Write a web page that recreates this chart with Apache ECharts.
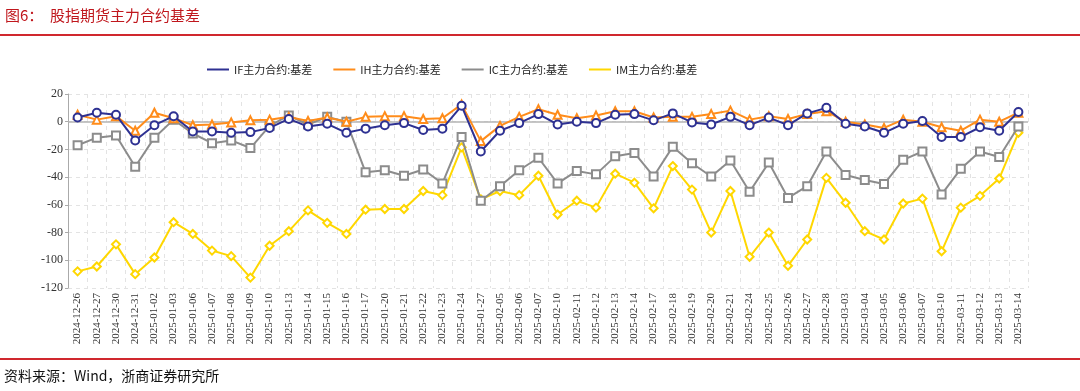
<!DOCTYPE html>
<html>
<head>
<meta charset="utf-8">
<script src="https://cdn.jsdelivr.net/npm/echarts@6/dist/echarts.min.js"></script>
<style>html,body{margin:0;padding:0;background:#fff;}#c{width:1080px;height:391px;}</style>
</head>
<body>
<div id="c"></div>
<script>
const categories = ['2024-12-26','2024-12-27','2024-12-30','2024-12-31','2025-01-02','2025-01-03','2025-01-06','2025-01-07','2025-01-08','2025-01-09','2025-01-10','2025-01-13','2025-01-14','2025-01-15','2025-01-16','2025-01-17','2025-01-20','2025-01-21','2025-01-22','2025-01-23','2025-01-24','2025-01-27','2025-02-05','2025-02-06','2025-02-07','2025-02-10','2025-02-11','2025-02-12','2025-02-13','2025-02-14','2025-02-17','2025-02-18','2025-02-19','2025-02-20','2025-02-21','2025-02-24','2025-02-25','2025-02-26','2025-02-27','2025-02-28','2025-03-03','2025-03-04','2025-03-05','2025-03-06','2025-03-07','2025-03-10','2025-03-11','2025-03-12','2025-03-13','2025-03-14'];
const ifBasis = [3,6.5,5,-13.5,-2.5,4,-7,-7,-8,-7.5,-4.5,2,-3.5,-1.5,-8,-5,-2.5,-1,-6,-5,11.5,-21.5,-6.5,-1,5.5,-2,0,-1,5,5.5,1,6,-0.5,-2,3.5,-2.5,3,-2.5,6,10,-1.5,-3.5,-8,-1.5,0.5,-11,-11,-4,-6.5,7];
const ihBasis = [5,1.5,4,-6.5,6.5,2.5,-2.5,-2,-0.5,1,1.5,3.5,0.5,3,0,3.5,4,4,2,2.5,12.5,-14,-3,3.5,9,5,2.5,4.5,7.5,7.5,3,3.5,3.5,5.5,8,1.5,4,2,5.5,7.5,0,-2,-4.5,1.5,0,-4,-6.5,1.5,0,6.5];
const icBasis = [-17,-11.5,-10,-32.5,-11.5,1.5,-8.5,-15.5,-13.5,-19,-3,4.5,-2,3.5,0,-36.5,-35,-39,-34.5,-44.5,-11,-57,-46.5,-35,-26,-44.5,-35.5,-38,-25,-22.5,-39.5,-18,-30,-39.5,-28,-50.5,-29.5,-55,-46.5,-21.5,-38.5,-42,-45,-27.5,-21.5,-52.5,-34,-21.5,-25.5,-3.5];
const imBasis = [-108,-104.5,-88.5,-110,-98,-72.5,-81,-93,-97,-112.5,-89.5,-79,-64,-73,-81,-63.5,-63,-63,-50,-53,-18.5,-56,-50,-53,-39,-67,-57,-62,-37.5,-44,-62.5,-32,-49,-80,-50,-97.5,-80,-104,-85,-40.5,-58.5,-79,-85,-59,-55.5,-93.5,-62,-53.5,-41,-8];
const yTicks = {min:-120, max:20, interval:20};
const seriesNames = ['IF主力合约:基差','IH主力合约:基差','IC主力合约:基差','IM主力合约:基差'];

const colors = ['#2e3192','#ff8c1a','#8c8c8c','#ffd700'];
const symbols = ['emptyCircle','emptyTriangle','emptyRect','emptyDiamond'];
const datas = [ifBasis, ihBasis, icBasis, imBasis];

const chart = echarts.init(document.getElementById('c'));
const serif = '"Liberation Serif","Times New Roman",serif';
const series = seriesNames.map((n,i)=>({
  name:n, type:'line', data:datas[i], symbol:symbols[i], symbolSize:8,
  showAllSymbol:true,
  lineStyle:{width:2,color:colors[i]},
  itemStyle:{color:colors[i],borderWidth:1.6},
  z: 10 - i,
  animation:false
}));
series[0].markLine = {silent:true, symbol:'none', label:{show:false},
  lineStyle:{color:'#b3b3b3',width:1.5,type:'solid'}, data:[{yAxis:0}], z:1, animation:false};

chart.setOption({
  backgroundColor:'#fff',
  animation:false,
  color:colors,
  grid:{left:68,right:52,top:94,bottom:103,containLabel:false},
  legend:{left:202,top:59,icon:'rect',itemWidth:22,itemHeight:2,itemGap:21,
    textStyle:{fontFamily:'"Noto Sans CJK SC",sans-serif',fontSize:11,color:'#222'},
    data:seriesNames},
  xAxis:{type:'category',data:categories,boundaryGap:true,
    axisLine:{show:false},axisTick:{show:false},
    axisLabel:{rotate:90,interval:0,fontFamily:serif,fontSize:11,color:'#333',margin:5},
    splitLine:{show:true,interval:0,lineStyle:{color:'#e3e3e3',type:[4,4],width:1}}},
  yAxis:{type:'value',min:yTicks.min,max:yTicks.max,interval:yTicks.interval,
    axisLine:{show:true,lineStyle:{color:'#aaaaaa',width:1}},
    axisTick:{show:true,length:3,lineStyle:{color:'#aaaaaa'}},
    axisLabel:{fontFamily:serif,fontSize:12,color:'#333',margin:5},
    splitLine:{show:true,lineStyle:{color:'#e3e3e3',type:[4,4],width:1}}},
  graphic:[
    {type:'text',left:5,top:8,style:{text:'图6：  股指期货主力合约基差',fill:'#c0171d',font:'15px "Noto Sans CJK SC",sans-serif'}},
    {type:'rect',left:0,top:34,shape:{width:1080,height:2},style:{fill:'#d0282e'}},
    {type:'rect',left:0,top:358,shape:{width:1080,height:2},style:{fill:'#d0282e'}},
    {type:'text',left:4,top:369,style:{text:'资料来源：Wind，浙商证券研究所',fill:'#111',font:'14px "Noto Sans CJK SC",sans-serif'}}
  ],
  series:series
});
</script>
</body>
</html>
